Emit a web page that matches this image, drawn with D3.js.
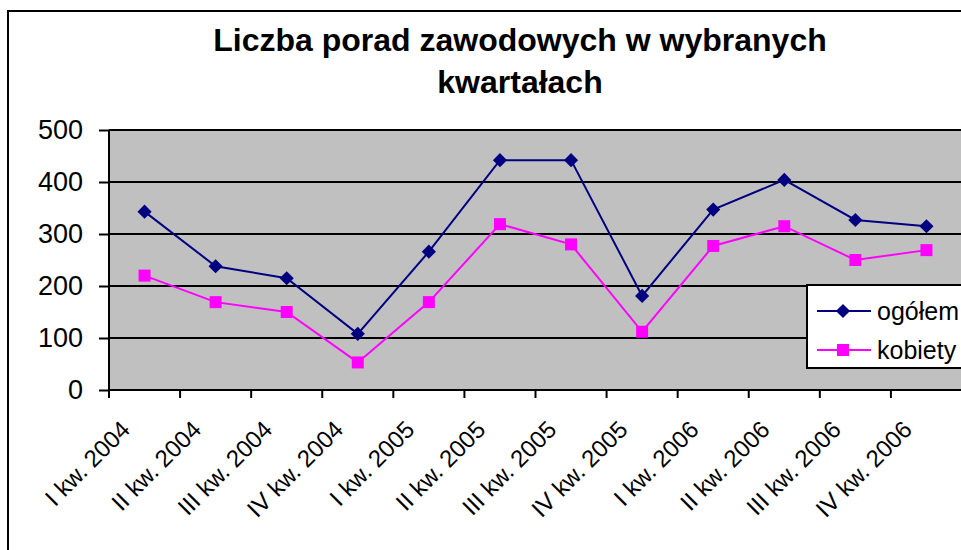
<!DOCTYPE html>
<html><head><meta charset="utf-8">
<script src="https://cdn.jsdelivr.net/npm/d3@7"></script>
<style>body{margin:0;background:#fff}svg{display:block}text{font-family:"Liberation Sans",Arial,sans-serif}</style>
</head><body>
<svg id="c" width="961" height="550"></svg>
<script>
const categories = ["I kw. 2004","II kw. 2004","III kw. 2004","IV kw. 2004","I kw. 2005","II kw. 2005","III kw. 2005","IV kw. 2005","I kw. 2006","II kw. 2006","III kw. 2006","IV kw. 2006"];
const ogolem = [343,238,215,108,266,442,442,181,347,404,327,315];
const kobiety = [220,169,150,53,169,319,280,112,277,315,250,269];
const yTicks = [0,100,200,300,400,500];
const seriesNames = ["ogółem","kobiety"];
const titleLines = ["Liczba porad zawodowych w wybranych","kwartałach"];

const svg = d3.select("#c");
const L = 109, R = 962, T = 130, B = 390;
// outer border
svg.append("rect").attr("x",8).attr("y",11).attr("width",1000).attr("height",600)
  .attr("fill","#fff").attr("stroke","#000").attr("stroke-width",2);

const x = d3.scaleBand().domain(categories).range([L,R]).padding(0);
const y = d3.scaleLinear().domain([0,500]).range([B,T]);

svg.append("rect").attr("x",L).attr("y",T).attr("width",R-L).attr("height",B-T)
  .attr("fill","#C0C0C0").attr("stroke","#808080").attr("stroke-width",1);

// gridlines
svg.append("g").selectAll("line").data(yTicks.filter(d=>d>0)).join("line")
  .attr("x1",L).attr("x2",R).attr("y1",d=>y(d)).attr("y2",d=>y(d))
  .attr("stroke","#000").attr("stroke-width",2);

// y axis
const ya = svg.append("g").attr("transform",`translate(${L},0)`)
  .call(d3.axisLeft(y).tickValues(yTicks).tickSize(10).tickPadding(16).tickFormat(d3.format("d")));
ya.select(".domain").remove();
ya.selectAll("line").attr("stroke","#000").attr("stroke-width",2);
ya.selectAll("text").attr("font-size",27).attr("fill","#000").attr("font-family","Liberation Sans, Arial, sans-serif");
svg.append("line").attr("x1",L).attr("x2",L).attr("y1",T).attr("y2",B+8).attr("stroke","#000").attr("stroke-width",2);

// x axis
const xa = svg.append("g").attr("transform",`translate(0,${B})`)
  .call(d3.axisBottom(x).tickSize(0).tickFormat(""));
xa.select(".domain").remove();
const tickPos = d3.range(categories.length+1).map(i=>L+i*x.bandwidth());
svg.append("g").selectAll("line").data(tickPos).join("line")
  .attr("x1",d=>d).attr("x2",d=>d).attr("y1",B).attr("y2",B+8)
  .attr("stroke","#000").attr("stroke-width",2);
svg.append("line").attr("x1",L).attr("x2",R).attr("y1",B).attr("y2",B).attr("stroke","#000").attr("stroke-width",2);

svg.append("g").selectAll("text").data(categories).join("text")
  .attr("transform",d=>`translate(${x(d)+x.bandwidth()/2-13},${B+41}) rotate(-45)`)
  .attr("text-anchor","end").attr("font-size",24).attr("fill","#000").text(d=>d);

const cx = d=>x(d)+x.bandwidth()/2;
const line = d3.line().x((v,i)=>cx(categories[i])).y(v=>y(v));
const colors = ["#000080","#FF00FF"];
const data = [ogolem,kobiety];
data.forEach((s,k)=>{
  svg.append("path").attr("d",line(s)).attr("fill","none").attr("stroke",colors[k]).attr("stroke-width",2);
});
const diamondSym = d3.symbol().type(d3.symbolSquare).size(100);
const square = d3.symbol().type(d3.symbolSquare).size(144);
svg.append("g").selectAll("path").data(ogolem).join("path")
  .attr("d",diamondSym).attr("transform",(v,i)=>`translate(${cx(categories[i])},${y(v)}) rotate(45)`)
  .attr("fill","#000080");
svg.append("g").selectAll("path").data(kobiety).join("path")
  .attr("transform",(v,i)=>`translate(${cx(categories[i])},${y(v)})`)
  .attr("d",square).attr("fill","#FF00FF");

// legend
const lg = svg.append("g");
lg.append("rect").attr("x",807).attr("y",285).attr("width",200).attr("height",83)
  .attr("fill","#fff").attr("stroke","#000").attr("stroke-width",2);
seriesNames.forEach((n,k)=>{
  const yy = [311,350][k];
  lg.append("line").attr("x1",817).attr("x2",871).attr("y1",yy).attr("y2",yy).attr("stroke",colors[k]).attr("stroke-width",2);
  if(k===0) lg.append("path").attr("d",diamondSym).attr("transform",`translate(843,${yy}) rotate(45)`).attr("fill",colors[k]);
  else lg.append("path").attr("d",square).attr("transform",`translate(843,${yy})`).attr("fill",colors[k]);
  lg.append("text").attr("x",877).attr("y",yy+9).attr("font-size",25).attr("fill","#000").text(n);
});

// title
svg.append("g").selectAll("text").data(titleLines).join("text")
  .attr("x",520).attr("y",(d,i)=>51+i*42).attr("text-anchor","middle")
  .attr("font-size",32).attr("font-weight","bold").attr("fill","#000").text(d=>d);
</script>
</body></html>
